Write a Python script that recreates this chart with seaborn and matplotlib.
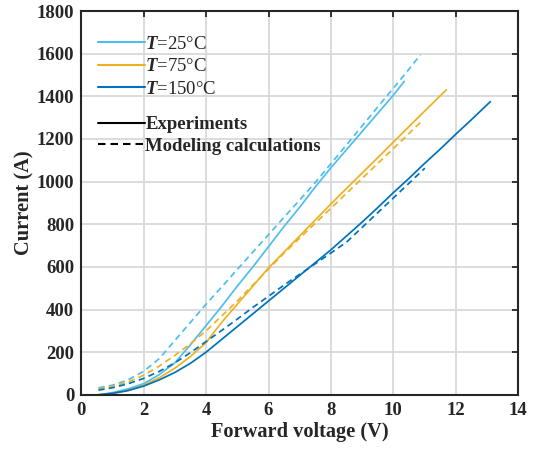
import numpy as np
import pandas as pd
import matplotlib
matplotlib.use("Agg")
import matplotlib.pyplot as plt
from matplotlib.lines import Line2D
import seaborn as sns

# ---- data ----
v25_exp = [0.55, 1.0, 1.5, 2.0, 2.5, 3.0, 3.5, 4.0, 4.5, 5.0, 5.5, 6.0, 6.5, 7.0, 7.5, 8.0, 8.5, 9.0, 9.5, 10.0, 10.35]
i25_exp = [0, 10, 28, 52, 95, 150, 235, 325, 415, 510, 600, 695, 790, 880, 975, 1065, 1150, 1235, 1320, 1405, 1470]
v25_mod = [0.55, 1.0, 1.5, 2.0, 2.5, 3.0, 3.5, 4.0, 4.5, 5.0, 5.5, 6.0, 6.5, 7.0, 7.5, 8.0, 8.5, 9.0, 9.5, 10.0, 10.5, 10.87]
i25_mod = [33, 45, 70, 110, 170, 255, 340, 425, 506, 588, 670, 751, 833, 914, 996, 1084, 1172, 1261, 1350, 1438, 1527, 1595]

v75_exp = [0.55, 1.0, 1.5, 2.0, 2.5, 3.0, 3.5, 4.0, 4.5, 5.0, 5.5, 6.0, 6.5, 7.0, 7.5, 8.0, 8.5, 9.0, 9.5, 10.0, 10.5, 11.0, 11.5, 11.7]
i75_exp = [0, 6, 20, 45, 80, 125, 180, 245, 340, 425, 510, 595, 670, 745, 820, 895, 968, 1040, 1112, 1185, 1258, 1330, 1402, 1430]
v75_mod = [0.55, 1.0, 1.5, 2.0, 2.5, 3.0, 3.5, 4.0, 4.5, 5.0, 5.5, 6.0, 6.5, 7.0, 7.5, 8.0, 8.5, 9.0, 9.5, 10.0, 10.5, 10.95]
i75_mod = [28, 40, 60, 92, 135, 185, 240, 300, 370, 440, 515, 590, 665, 735, 805, 875, 945, 1015, 1085, 1155, 1225, 1289]

v150_exp = [0.55, 1.0, 1.5, 2.0, 2.5, 3.0, 3.5, 4.0, 4.5, 5.0, 5.5, 6.0, 6.5, 7.0, 7.5, 8.0, 8.5, 9.0, 9.5, 10.0, 10.5, 11.0, 11.5, 12.0, 12.5, 13.11]
i150_exp = [0, 7, 20, 41, 70, 105, 148, 200, 260, 320, 380, 440, 500, 560, 620, 680, 745, 810, 878, 948, 1015, 1085, 1152, 1222, 1290, 1375]
v150_mod = [0.55, 1.0, 1.5, 2.0, 2.5, 3.0, 3.5, 4.0, 4.5, 5.0, 5.5, 6.0, 6.5, 7.0, 7.5, 8.0, 8.5, 9.0, 9.5, 10.0, 10.5, 11.01]
i150_mod = [22, 33, 52, 77, 110, 150, 198, 250, 302, 355, 410, 462, 515, 565, 615, 665, 716, 785, 854, 923, 992, 1063]

temps = ["25", "75", "150"]
colors = ["#4DBEEE", "#EDB120", "#0072BD"]
x_ticks = [0, 2, 4, 6, 8, 10, 12, 14]
y_ticks = [0, 200, 400, 600, 800, 1000, 1200, 1400, 1600, 1800]

series = [
    ("25", "Experiments", v25_exp, i25_exp),
    ("25", "Modeling calculations", v25_mod, i25_mod),
    ("75", "Experiments", v75_exp, i75_exp),
    ("75", "Modeling calculations", v75_mod, i75_mod),
    ("150", "Experiments", v150_exp, i150_exp),
    ("150", "Modeling calculations", v150_mod, i150_mod),
]
frames = []
for t, kind, v, i in series:
    frames.append(pd.DataFrame({"V": v, "I": i, "T": t, "kind": kind, "sid": t + kind}))
df = pd.concat(frames, ignore_index=True)

sns.set_style("white")
plt.rcParams["font.family"] = ["Liberation Serif", "DejaVu Serif"]
plt.rcParams["mathtext.fontset"] = "custom"
plt.rcParams["mathtext.it"] = "Liberation Serif:italic:bold"
plt.rcParams["mathtext.rm"] = "Liberation Serif"

fig = plt.figure(figsize=(5.42, 4.51), dpi=100)
ax = fig.add_axes([0.150, 0.1246, 0.806, 0.851])

DASH = (3.6, 2.4)
sns.lineplot(data=df, x="V", y="I", hue="T", style="kind", units="sid", estimator=None,
             hue_order=temps, palette=colors,
             style_order=["Experiments", "Modeling calculations"],
             dashes={"Experiments": (None, None), "Modeling calculations": DASH},
             linewidth=1.25, sort=False, legend=False, ax=ax)

ax.set_xlim(0, 14)
ax.set_ylim(0, 1800)
ax.set_xticks(x_ticks)
ax.set_yticks(y_ticks)
ax.grid(True, color="#d9d9d9", linewidth=1.3)
ax.set_axisbelow(True)
for s in ax.spines.values():
    s.set_color("#262626")
    s.set_linewidth(1.5)
ax.tick_params(direction="in", length=4, width=1.3, top=True, right=True,
               labelsize=13.5, colors="#262626", pad=5)
for lab in ax.get_xticklabels() + ax.get_yticklabels():
    lab.set_fontweight("bold")
ax.set_xlabel("Forward voltage (V)", fontsize=14.7, fontweight="bold", labelpad=2)
ax.set_ylabel("Current (A)", fontsize=14.7, fontweight="bold", labelpad=2)

h1 = [Line2D([], [], color=c, lw=1.5) for c in colors]
l1 = [r"$\mathit{T}$=25°C", r"$\mathit{T}$=75°C", r"$\mathit{T}$=150°C"]
leg1 = ax.legend(h1, l1, loc="upper left", bbox_to_anchor=(0.022, 0.955), frameon=False,
                 fontsize=13.5, handlelength=2.5, handletextpad=0.0, labelspacing=0.28,
                 borderaxespad=0)
ax.add_artist(leg1)
h2 = [Line2D([], [], color="black", lw=1.5),
      Line2D([], [], color="black", lw=1.5, dashes=DASH)]
l2 = ["Experiments", "Modeling calculations"]
leg2 = ax.legend(h2, l2, loc="upper left", bbox_to_anchor=(0.022, 0.745), frameon=False,
                 handlelength=2.5, handletextpad=0.0, labelspacing=0.22,
                 borderaxespad=0, prop={"weight": "bold", "size": 13.5})

fig.savefig("out.png", dpi=100)
